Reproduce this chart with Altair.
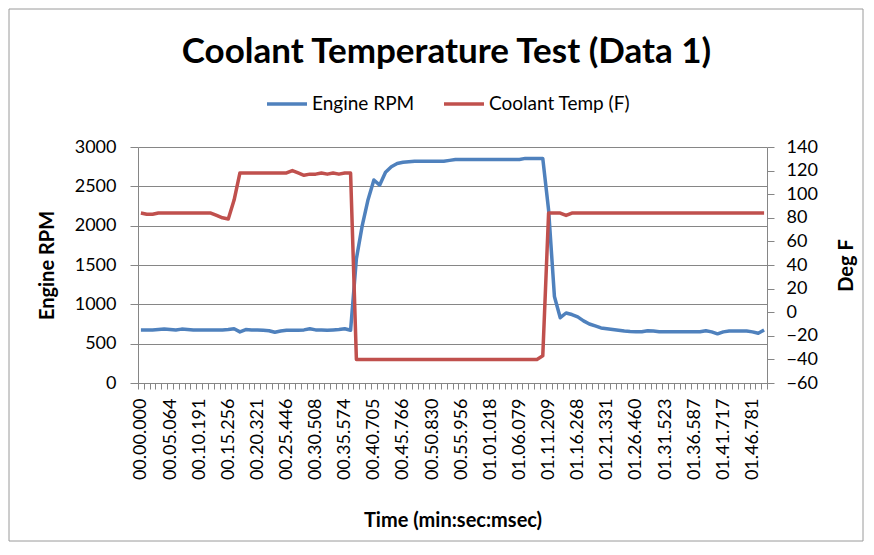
import json
import altair as alt
import pandas as pd

# ---- data ----
time_labels = ["00.00.000", "00.05.064", "00.10.191", "00.15.256", "00.20.321", "00.25.446",
               "00.30.508", "00.35.574", "00.40.705", "00.45.766", "00.50.830", "00.55.956",
               "01.01.018", "01.06.079", "01.11.209", "01.16.268", "01.21.331", "01.26.460",
               "01.31.523", "01.36.587", "01.41.717", "01.46.781"]

engine_rpm = [675, 675, 675, 680, 685, 680, 675, 685, 680, 675,
              675, 675, 675, 675, 675, 680, 690, 650, 680, 675,
              675, 670, 665, 645, 660, 670, 670, 670, 675, 690,
              675, 675, 670, 675, 680, 690, 670,
              1580, 2000, 2330, 2580, 2516, 2680, 2750, 2790, 2805, 2812,
              2820, 2820, 2820, 2820, 2820, 2820,
              2830,
              2840, 2840, 2840, 2840, 2840, 2840, 2840, 2840, 2840, 2840, 2840, 2840,
              2855, 2855, 2855, 2855,
              2200, 1100, 830, 890,
              870, 840, 790, 750, 725, 700, 690, 680, 670, 660,
              655, 652, 652, 665, 660, 652, 652, 652, 652, 652,
              652, 652, 652, 665, 650, 625, 650, 660, 660, 660,
              660, 650, 632, 673]

coolant_temp = [84, 83, 83, 84, 84, 84, 84, 84, 84, 84, 84, 84,
                84, 82, 80, 79, 95,
                118, 118, 118, 118, 118, 118, 118, 118, 118, 120,
                118, 116, 117, 117, 118, 117, 118, 117, 118, 118,
                -40, -40, -40, -40, -40, -40, -40, -40, -40, -40,
                -40, -40, -40, -40, -40, -40, -40, -40, -40, -40,
                -40, -40, -40, -40, -40, -40, -40, -40, -40, -40,
                -40, -40,
                -37,
                84, 84, 84,
                82,
                84, 84, 84, 84, 84, 84, 84, 84, 84, 84,
                84, 84, 84, 84, 84, 84, 84, 84, 84, 84,
                84, 84, 84, 84, 84, 84, 84, 84, 84, 84,
                84, 84, 84, 84]

series_names = ["Engine RPM", "Coolant Temp (F)"]
series_colors = ["#4F81BD", "#C0504D"]
rpm_ticks = [0, 500, 1000, 1500, 2000, 2500, 3000]
temp_ticks = [-60, -40, -20, 0, 20, 40, 60, 80, 100, 120, 140]

n = len(engine_rpm)
df = pd.DataFrame({"i": list(range(n)), "rpm": engine_rpm, "temp": coolant_temp})

FONT = "Lato"
AXIS_GRAY = "#868686"
W, H = 629, 236
LBL = 18
TTL = 20
label_expr = json.dumps(time_labels) + "[round(datum.value / 5)]"
x_scale = alt.Scale(domain=[-0.5, n - 0.5], nice=False, zero=False)

color = alt.Color("series:N",
                  scale=alt.Scale(domain=series_names, range=series_colors),
                  legend=alt.Legend(orient="none", legendX=127, legendY=-65,
                                    direction="horizontal", title=None,
                                    symbolType="stroke", symbolStrokeWidth=3.5,
                                    symbolSize=1600, labelFontSize=19, labelFont=FONT,
                                    labelColor="black", columnPadding=22,
                                    labelOffset=3, padding=0))

blue = alt.Chart(df).transform_calculate(series="'Engine RPM'").mark_line(
    strokeWidth=3.5, strokeJoin="round").encode(
    x=alt.X("i:Q", scale=x_scale,
            axis=alt.Axis(orient="bottom", values=[5 * k for k in range(len(time_labels))],
                          labelExpr=label_expr, ticks=False, tickSize=0, domain=True,
                          domainColor=AXIS_GRAY, labelAngle=270, labelAlign="right",
                          labelBaseline="middle", labelPadding=15, labelFontSize=LBL,
                          labelFont=FONT, labelColor="black", labelOverlap=False,
                          labelFlush=False, labelBound=False, grid=False,
                          title="Time (min:sec:msec)", titleFont=FONT, titleFontSize=TTL,
                          titleFontWeight="bold", titleColor="black",
                          titleX=W / 2, titleY=137, titleBaseline="middle",
                          titleAlign="center")),
    y=alt.Y("rpm:Q", scale=alt.Scale(domain=[0, 3000], nice=False),
            axis=alt.Axis(orient="left", values=rpm_ticks, format="d", grid=True,
                          gridColor=AXIS_GRAY,
                          tickSize=8, tickColor=AXIS_GRAY, domainColor=AXIS_GRAY,
                          labelPadding=14, labelFontSize=LBL, labelFont=FONT,
                          labelColor="black", title="Engine RPM", titleFont=FONT,
                          titleFontSize=TTL, titleFontWeight="bold", titleColor="black",
                          titleAngle=270, titleX=-91, titleY=H / 2,
                          titleBaseline="middle", titleAlign="center")),
    color=color,
)

red = alt.Chart(df).transform_calculate(series="'Coolant Temp (F)'").mark_line(
    strokeWidth=3.5, strokeJoin="round").encode(
    x=alt.X("i:Q", scale=x_scale,
            axis=alt.Axis(orient="bottom", values=[k - 0.5 for k in range(n + 1)],
                          labels=False, ticks=True, tickSize=6, tickColor=AXIS_GRAY,
                          domain=False, grid=False, title=None)),
    y=alt.Y("temp:Q", scale=alt.Scale(domain=[-60, 140], nice=False, zero=False),
            axis=alt.Axis(orient="right", values=temp_ticks, format="d", grid=False,
                          tickSize=7, tickColor=AXIS_GRAY, domainColor=AXIS_GRAY,
                          labelPadding=12, labelFontSize=LBL, labelFont=FONT,
                          labelColor="black", title="Deg F", titleFont=FONT,
                          titleFontSize=TTL, titleFontWeight="bold", titleColor="black",
                          titleAngle=270, titleX=79, titleY=H / 2,
                          titleBaseline="middle", titleAlign="center")),
    color=color,
)

frame = alt.Chart(pd.DataFrame({"a": [0]})).mark_rect(
    filled=False, stroke="#9a9a9a", strokeWidth=1).encode(
    x=alt.value(-129), x2=alt.value(725), y=alt.value(-138), y2=alt.value(394))

chart = alt.layer(frame, blue, red).resolve_scale(y="independent").resolve_axis(
    x="independent").properties(
    width=W, height=H,
    autosize=alt.AutoSizeParams(type="none"),
    padding={"left": 130, "top": 139, "right": 97, "bottom": 160},
    background="white",
    title=alt.TitleParams("Coolant Temperature Test (Data 1)", font=FONT, fontSize=35,
                          fontWeight="bold", anchor="middle", dx=-6, dy=32, offset=-57,
                          baseline="alphabetic", color="black"),
).configure_view(strokeWidth=0)

chart.save("out.html", embed_options={"renderer": "svg", "actions": False})
